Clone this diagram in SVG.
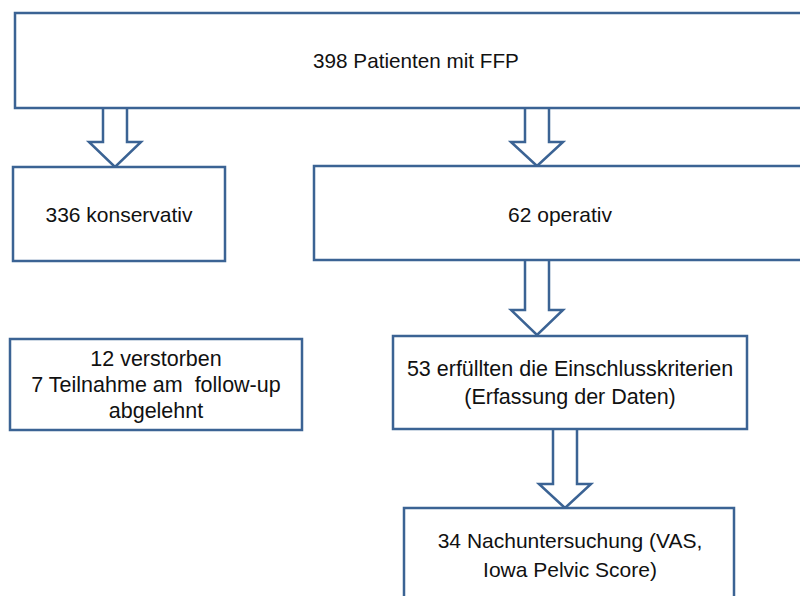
<svg xmlns="http://www.w3.org/2000/svg" width="800" height="596" viewBox="0 0 800 596">
<style>
.box{fill:#fff;stroke:#3B6394;stroke-width:2.5}
.arr{fill:#fff;stroke:#3B6394;stroke-width:2.5;stroke-linejoin:miter}
text{font-family:"Liberation Sans",Arial,sans-serif;font-size:21px;fill:#111;text-anchor:middle;white-space:pre}
.l{font-size:21.5px}
</style>
<rect width="800" height="596" fill="#fff"/>
<g id="connectors">
<path class="arr" d="M103,108 V142 H89 L115,167 L141,142 H127 V108"/>
<path class="arr" d="M525,108 V142 H511 L537,166 L563,142 H549 V108"/>
<path class="arr" d="M525,260 V310 H511 L537,335 L563,310 H549 V260"/>
<path class="arr" d="M553,429 V484 H539 L565,508 L591,484 H577 V429"/>
</g>
<g id="n398"><rect class="box" x="15" y="13" width="800" height="95"/><text x="416" y="68" style="font-size:20.7px">398 Patienten mit FFP</text></g>
<g id="n336"><rect class="box" x="13" y="167" width="212" height="94"/><text x="119" y="222">336 konservativ</text></g>
<g id="n62"><rect class="box" x="314" y="166" width="500" height="94"/><text x="560" y="222">62 operativ</text></g>
<g id="nexcl"><rect class="box" x="10" y="339" width="292" height="91"/><text class="l" x="156" y="366">12 verstorben</text><text class="l" x="156" y="392" xml:space="preserve">7 Teilnahme am  follow-up</text><text class="l" x="156" y="418">abgelehnt</text></g>
<g id="n53"><rect class="box" x="393" y="336" width="354" height="93"/><text class="l" x="570" y="376">53 erfüllten die Einschlusskriterien</text><text class="l" x="570" y="404">(Erfassung der Daten)</text></g>
<g id="n34"><rect class="box" x="404" y="508" width="330" height="100"/><text x="570" y="548">34 Nachuntersuchung (VAS,</text><text x="570" y="577">Iowa Pelvic Score)</text></g>
</svg>
